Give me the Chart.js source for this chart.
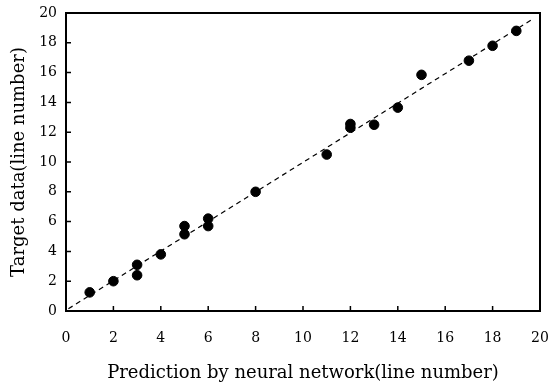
<!DOCTYPE html>
<html>
<head>
<meta charset="utf-8">
<script src="https://cdn.jsdelivr.net/npm/chart.js@4/dist/chart.umd.min.js"></script>
<style>
  html, body { margin: 0; padding: 0; background: #fff; }
  #wrap { width: 552px; height: 388px; }
</style>
</head>
<body>
<div id="wrap"><canvas id="plot" width="552" height="388"></canvas></div>
<script>
// prediction (x) vs target (y)
var predX   = [1, 2, 3, 3, 4, 5, 5, 6, 6, 8, 11, 12, 12, 13, 14, 15, 17, 18, 19];
var targetY = [1.25, 2.0, 3.1, 2.4, 3.8, 5.7, 5.15, 6.2, 5.7, 8.0, 10.5, 12.55, 12.3, 12.5, 13.65, 15.85, 16.8, 17.8, 18.8];

// dashed fit line end points
var lineX = [0.1, 19.7];
var lineY = [0.15, 19.6];

var tickVals = [0, 2, 4, 6, 8, 10, 12, 14, 16, 18, 20];

const FONT = "'DejaVu Serif', 'Liberation Serif', serif";

var points = predX.map(function(x, i) { return {x: x, y: targetY[i]}; });
var fitLine = lineX.map(function(x, i) { return {x: x, y: lineY[i]}; });

// frame + inward tick marks
var frameTicks = {
  id: 'frameTicks',
  afterDatasetsDraw(chart) {
    const ctx = chart.ctx;
    const a = chart.chartArea;
    const xs = chart.scales.x, ys = chart.scales.y;
    ctx.save();
    ctx.strokeStyle = '#000';
    ctx.lineWidth = 2;
    ctx.strokeRect(a.left, a.top, a.right - a.left, a.bottom - a.top);
    ctx.lineWidth = 1.5;
    ctx.beginPath();
    tickVals.slice(1, -1).forEach(function(v) {
      let px = xs.getPixelForValue(v);
      ctx.moveTo(px, a.bottom);
      ctx.lineTo(px, a.bottom - 5);
      let py = ys.getPixelForValue(v);
      ctx.moveTo(a.left, py);
      ctx.lineTo(a.left + 5, py);
    });
    ctx.stroke();
    ctx.restore();
  }
};

new Chart(document.getElementById('plot'), {
  type: 'scatter',
  data: {
    datasets: [
      {
        data: points,
        backgroundColor: '#000',
        borderColor: '#000',
        pointRadius: 4.8,
        pointHoverRadius: 4.8
      },
      {
        type: 'line',
        data: fitLine,
        borderColor: '#000',
        borderWidth: 1.2,
        borderDash: [5, 4],
        pointRadius: 0,
        fill: false
      }
    ]
  },
  options: {
    responsive: false,
    animation: false,
    layout: { padding: { top: 13, right: 12, left: 0, bottom: 0 } },
    plugins: { legend: { display: false }, tooltip: { enabled: false } },
    scales: {
      x: {
        type: 'linear',
        min: 0, max: 20,
        afterBuildTicks(s) { s.ticks = tickVals.map(function(v) { return {value: v}; }); },
        afterFit(s) { s.height = 77; s.paddingLeft = 0; s.paddingRight = 0; },
        grid: { display: false, drawTicks: false },
        border: { display: false },
        ticks: { color: '#000', padding: 19, maxRotation: 0, font: { family: FONT, size: 14 } },
        title: {
          display: true,
          text: 'Prediction by neural network(line number)',
          color: '#000',
          font: { family: FONT, size: 18 },
          padding: { top: 0, bottom: 4 }
        }
      },
      y: {
        type: 'linear',
        min: 0, max: 20,
        afterBuildTicks(s) { s.ticks = tickVals.map(function(v) { return {value: v}; }); },
        afterFit(s) { s.width = 66; s.paddingTop = 0; s.paddingBottom = 0; },
        grid: { display: false, drawTicks: false },
        border: { display: false },
        ticks: { color: '#000', padding: 9, font: { family: FONT, size: 14 } },
        title: {
          display: true,
          text: 'Target data(line number)',
          color: '#000',
          font: { family: FONT, size: 18 },
          padding: { top: 9, bottom: 0 }
        }
      }
    }
  },
  plugins: [frameTicks]
});
</script>
</body>
</html>
